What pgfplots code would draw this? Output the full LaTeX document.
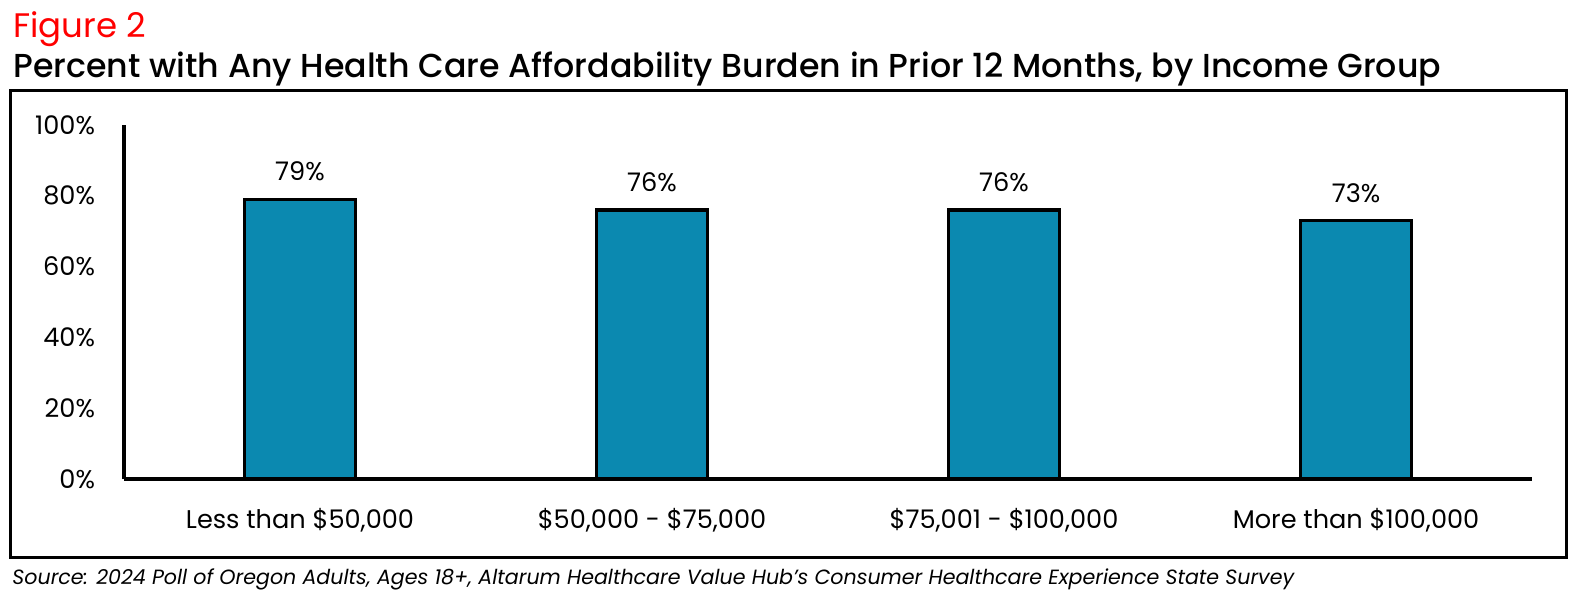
\documentclass[border=0pt]{standalone}
\usepackage{fontspec}
\setmainfont{Poppins}[BoldFont={Poppins Medium}]
\usepackage{pgfplots}
\pgfplotsset{compat=1.18}
\definecolor{barblue}{RGB}{11,137,176}
\definecolor{figred}{RGB}{255,0,0}
\begin{document}
\begin{tikzpicture}[x=1bp,y=1bp]
\path[use as bounding box] (-62,-62.5) rectangle (730.5,239.5);
\draw[line width=1.5bp] (-56.5,-39) rectangle (721,194.5);
\node[anchor=base west, inner sep=0, text=figred, font=\fontsize{17bp}{18bp}\selectfont] at (-55.5,221) {Figure 2};
\node[anchor=base west, inner sep=0, font=\bfseries\fontsize{16.6bp}{18bp}\selectfont] at (-55.5,201) {Percent with Any Health Care Affordability Burden in Prior 12 Months, by Income Group};
\node[anchor=base west, inner sep=0, font=\itshape\fontsize{10.3bp}{14bp}\selectfont] at (-56,-52.5) {Source: 2024 Poll of Oregon Adults, Ages 18+, Altarum Healthcare Value Hub's Consumer Healthcare Experience State Survey};
\begin{axis}[
  at={(0,0)}, anchor=south west,
  scale only axis, width=704bp, height=177bp,
  xmin=-0.5, xmax=3.5, ymin=0, ymax=100,
  axis x line=bottom, axis y line=left,
  axis line style={-, line width=2bp},
  major tick length=0pt,
  xtick={0,1,2,3},
  xticklabels={{Less than \$50,000}, {\$50,000 - \$75,000}, {\$75,001 - \$100,000}, {More than \$100,000}},
  ytick={0,20,40,60,80,100},
  yticklabel={\pgfmathprintnumber{\tick}\%},
  /pgf/number format/assume math mode=true,
  ticklabel style={font=\fontsize{12.8bp}{14bp}\selectfont},
  yticklabel style={xshift=-11bp},
  xticklabel style={yshift=-11bp},
  ybar, bar width=55.5bp,
  nodes near coords={\pgfmathprintnumber{\pgfplotspointmeta}\%},
  nodes near coords style={font=\fontsize{12.8bp}{14bp}\selectfont, yshift=5bp},
  clip=false,
]
\addplot[fill=barblue, draw=black, line width=1.6bp] coordinates {(0,79) (1,76) (2,76) (3,73)};
\end{axis}
\end{tikzpicture}
\end{document}
